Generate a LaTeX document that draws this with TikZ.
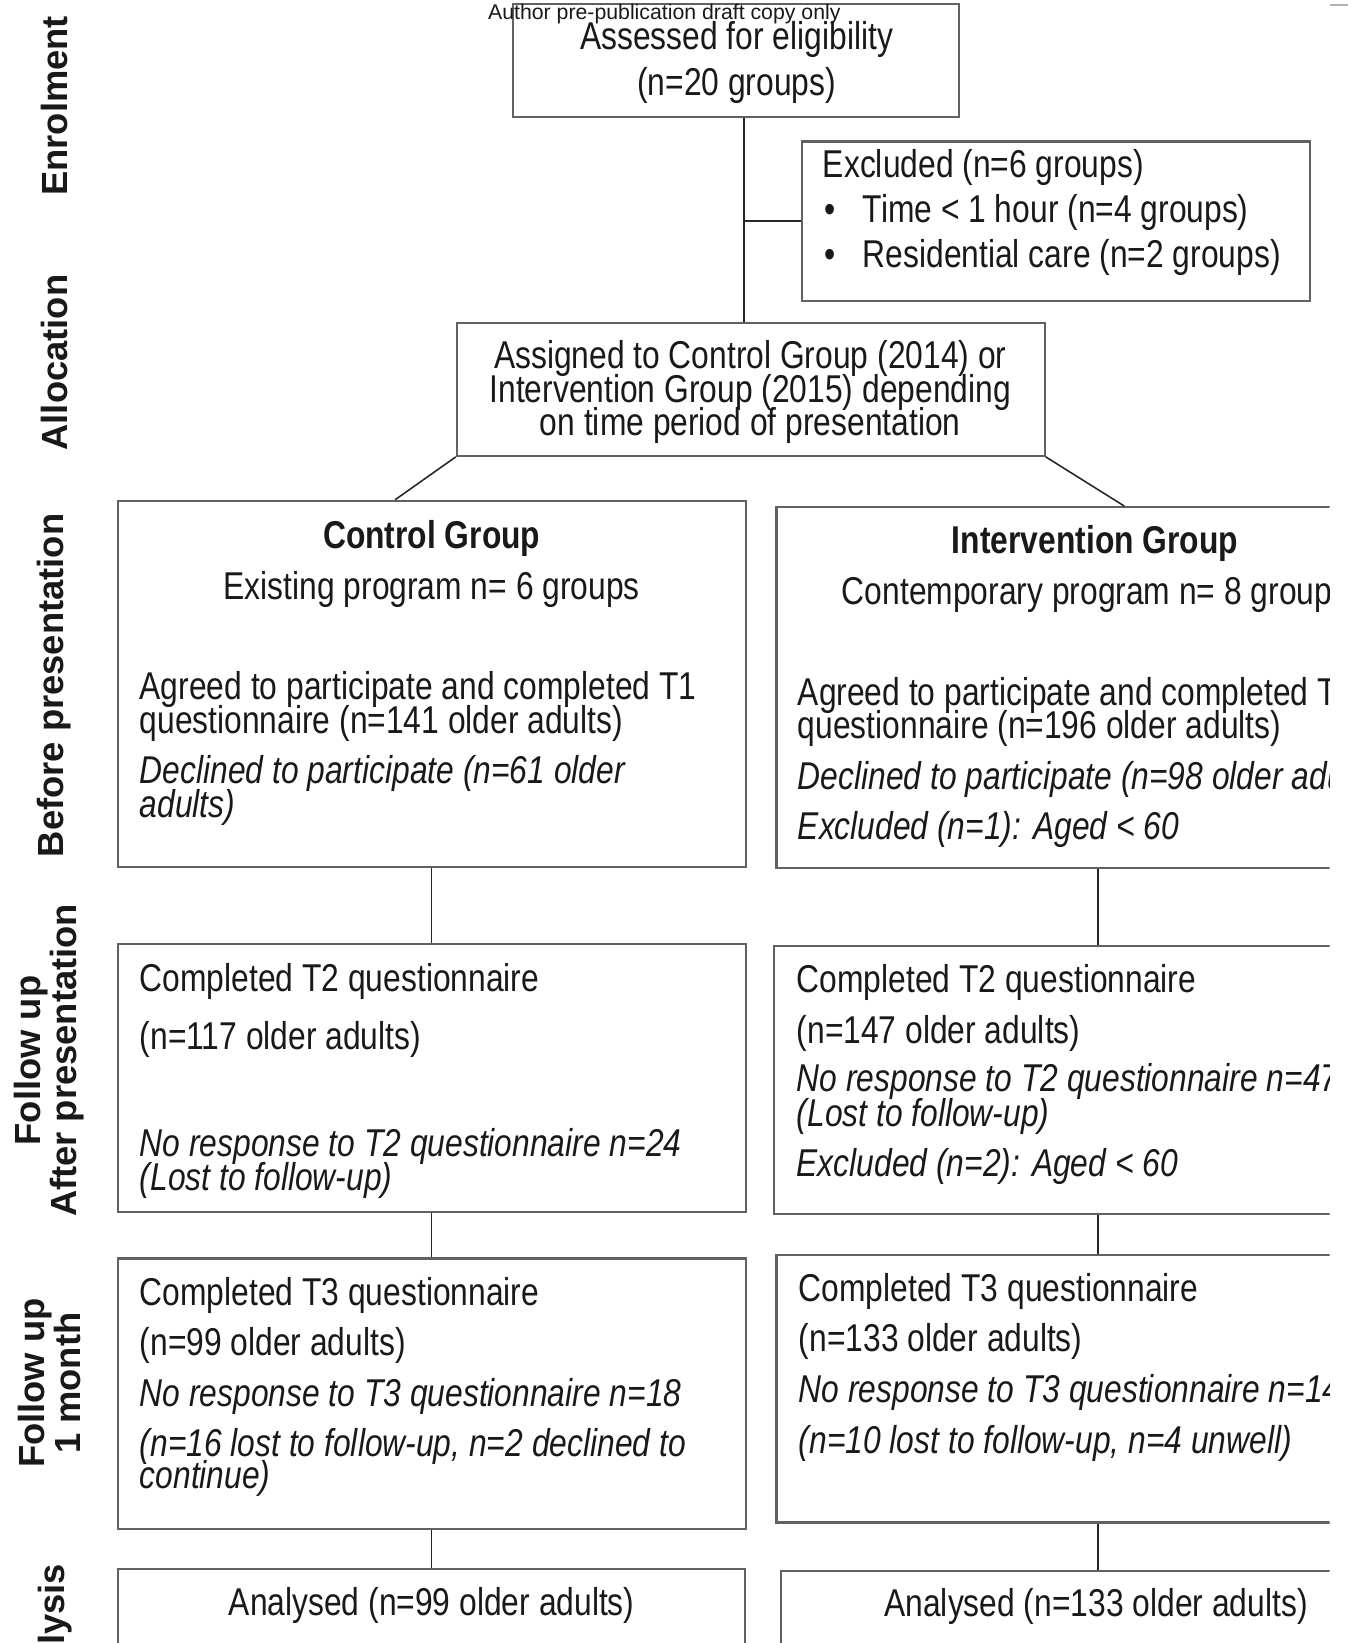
\documentclass[tikz,border=0pt]{standalone}
\usepackage{fontspec}
\setmainfont{Liberation Sans}[FakeStretch=0.82]
\newfontfamily\lblfont{Liberation Sans}
\usetikzlibrary{fit}
\tikzset{
 bx/.style={draw=black!62, line width=1pt, inner sep=0pt},
 conn/.style={draw=black!85, line width=0.75pt},
 txt/.style={inner sep=0pt, font=\fontsize{18.5}{16}\selectfont, text=black!90},
 lbl/.style={inner sep=0pt, rotate=90, text=black!90, font=\lblfont\bfseries\fontsize{17.35}{15.5}\selectfont, align=center},
 wmark/.style={inner sep=0pt, text=black!90, font=\lblfont\fontsize{10.15}{12}\selectfont},
}
\newcommand\tline[5][base west]{\node[txt,anchor=#1] (#2) at (#3,#4) {#5};}
\begin{document}
\begin{tikzpicture}[x=0.5pt,y=-0.5pt]
\useasboundingbox (0,0) rectangle (1286,1568);
\begin{scope}
\clip (0,0) rectangle (1269,1568);
% boxes
\node[bx, fit={(490,4) (915,112)}] (asess) {};
\node[bx, fit={(765,135) (1250,287)}] (excl) {};
\node[bx, fit={(436,308) (997,435)}] (alloc) {};
\node[bx, fit={(113,478) (712,827)}] (ctrl) {};
\node[bx, fit={(741,484) (1349,828)}] (intv) {};
\node[bx, fit={(113,901) (712,1157)}] (t2c) {};
\node[bx, fit={(739,903) (1349,1159)}] (t2i) {};
\node[bx, fit={(113,1201) (712,1459)}] (t3c) {};
\node[bx, fit={(741,1198) (1349,1453)}] (t3i) {};
\node[bx, fit={(113,1497) (711,1600)}] (anc) {};
\node[bx, fit={(745,1499) (1349,1600)}] (ani) {};
% connectors
\coordinate (trunk) at (710,0);
\coordinate (cx) at (412,0);
\coordinate (ix) at (1048,0);
\coordinate (dlx) at (377,0);
\coordinate (drx) at (1073,0);
\draw[conn] (trunk |- asess.south) -- (trunk |- alloc.north);
\draw[conn] (trunk |- excl.west) -- (excl.west);
\draw[conn] (alloc.south west) -- (dlx |- ctrl.north);
\draw[conn] (alloc.south east) -- (drx |- intv.north);
\draw[conn] (cx |- ctrl.south) -- (cx |- t2c.north);
\draw[conn] (ix |- intv.south) -- (ix |- t2i.north);
\draw[conn] (cx |- t2c.south) -- (cx |- t3c.north);
\draw[conn] (ix |- t2i.south) -- (ix |- t3i.north);
\draw[conn] (cx |- t3c.south) -- (cx |- anc.north);
\draw[conn] (ix |- t3i.south) -- (ix |- ani.north);
% texts: top
\tline[base]{a1}{703}{47}{Assessed for eligibility}
\tline[base]{a2}{703}{91}{(n=20 groups)}
\tline{e1}{785}{169}{Excluded (n=6 groups)}
\tline[base]{eb1}{792}{212}{•}
\tline{e2}{823}{212}{Time < 1 hour (n=4 groups)}
\tline[base]{eb2}{792}{255}{•}
\tline{e3}{823}{255}{Residential care (n=2 groups)}
\tline[base]{al1}{716}{352}{Assigned to Control Group (2014) or}
\tline[base]{al2}{716}{384}{Intervention Group (2015) depending}
\tline[base]{al3}{716}{416}{on time period of presentation}
% control
\tline[base]{c1}{412}{523}{\bfseries Control Group}
\tline[base]{c2}{412}{572}{Existing program n= 6 groups}
\tline{c3}{133}{668}{Agreed to participate and completed T1}
\tline{c4}{133}{700}{questionnaire (n=141 older adults)}
\tline{c5}{133}{748}{\itshape Declined to participate (n=61 older}
\tline{c6}{133}{780}{\itshape adults)}
% intervention
\tline[base]{i1}{1045}{528}{\bfseries Intervention Group}
\tline[base]{i2}{1045}{577}{Contemporary program n= 8 groups}
\tline{i3}{761}{673}{Agreed to participate and completed T1}
\tline{i4}{761}{705}{questionnaire (n=196 older adults)}
\tline{i5}{761}{753}{\itshape Declined to participate (n=98 older adults)}
\tline{i6}{761}{801}{\itshape Excluded (n=1): Aged < 60}
% T2
\tline{tc1}{133}{946}{Completed T2 questionnaire}
\tline{tc2}{133}{1002}{(n=117 older adults)}
\tline{tc3}{133}{1104}{\itshape No response to T2 questionnaire n=24}
\tline{tc4}{133}{1136}{\itshape (Lost to follow-up)}
\tline{ti1}{760}{947}{Completed T2 questionnaire}
\tline{ti2}{760}{996}{(n=147 older adults)}
\tline{ti3}{760}{1042}{\itshape No response to T2 questionnaire n=47}
\tline{ti4}{760}{1075}{\itshape (Lost to follow-up)}
\tline{ti5}{760}{1123}{\itshape Excluded (n=2): Aged < 60}
% T3
\tline{uc1}{133}{1246}{Completed T3 questionnaire}
\tline{uc2}{133}{1294}{(n=99 older adults)}
\tline{uc3}{133}{1342}{\itshape No response to T3 questionnaire n=18}
\tline{uc4}{133}{1390}{\itshape (n=16 lost to follow-up, n=2 declined to}
\tline{uc5}{133}{1421}{\itshape continue)}
\tline{ui1}{762}{1242}{Completed T3 questionnaire}
\tline{ui2}{762}{1290}{(n=133 older adults)}
\tline{ui3}{762}{1338}{\itshape No response to T3 questionnaire n=14}
\tline{ui4}{762}{1387}{\itshape (n=10 lost to follow-up, n=4 unwell)}
% analysed
\tline[base]{ac1}{412}{1542}{Analysed (n=99 older adults)}
\tline[base]{ai1}{1046}{1543}{Analysed (n=133 older adults)}
% watermark
\node[wmark, anchor=base] (wm) at (634,19) {Author pre-publication draft copy only};
% side labels
\node[lbl] (lenrol) at (52,101) {Enrolment};
\node[lbl] (lalloc) at (52,346) {Allocation};
\node[lbl] (lbefore) at (52,654) {Before presentation};
\node[lbl] (lafter) at (47,1012) {Follow up\\After presentation};
\node[lbl] (lmonth) at (47,1320) {Follow up\\1 month};
\node[lbl] (lanal) at (53,1564) {Analysis};
\end{scope}
\draw[black!30, line width=1.2pt] (1269,5) -- (1286,5);
\end{tikzpicture}
\end{document}
